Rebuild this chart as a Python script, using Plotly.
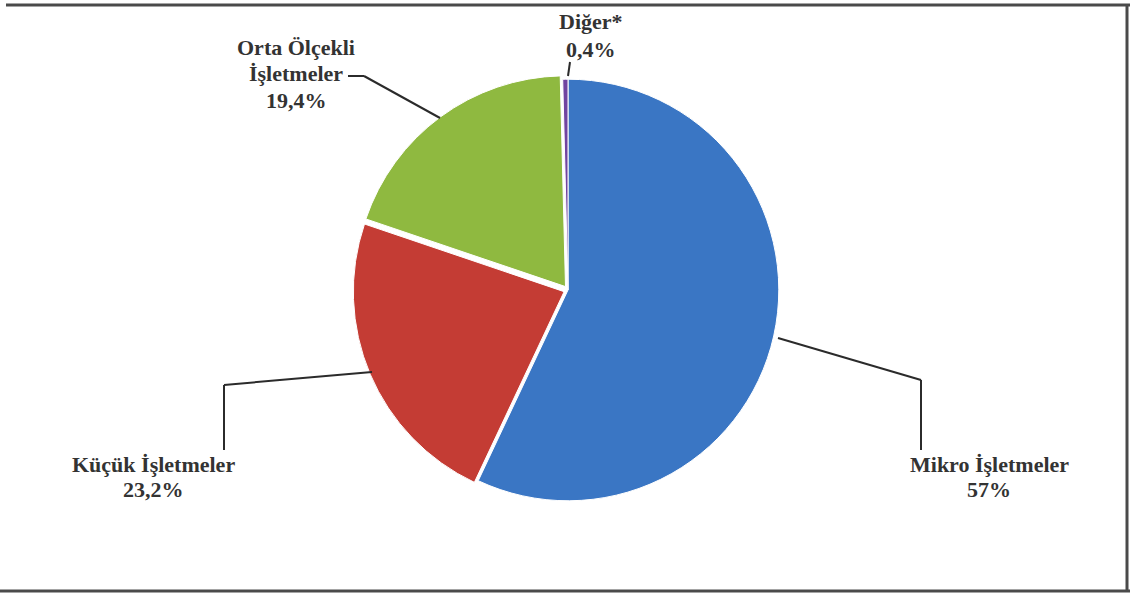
import plotly.graph_objects as go

# ---- data ----
labels = ["Mikro İşletmeler", "Küçük İşletmeler", "Orta Ölçekli İşletmeler", "Diğer*"]
values = [57.0, 23.2, 19.4, 0.4]
value_text = ["57%", "23,2%", "19,4%", "0,4%"]
label_lines = [["Mikro İşletmeler"], ["Küçük İşletmeler"], ["Orta Ölçekli", "İşletmeler"], ["Diğer*"]]
colors = ["#3a76c4", "#c43c34", "#8fb940", "#7044a0"]

W, H = 1130, 594

def px(x):
    return x / W

def py(y):
    return 1 - y / H

fig = go.Figure()
cx, cy, r = 568, 290, 215
fig.add_trace(go.Pie(
    labels=labels, values=values, sort=False, direction="clockwise", rotation=0,
    marker=dict(colors=colors, line=dict(color="#ffffff", width=1)),
    pull=[0, 0.02, 0.02, 0],
    textinfo="none", hoverinfo="label+percent", showlegend=False,
    domain=dict(x=[px(cx - r), px(cx + r)], y=[py(cy + r), py(cy - r)]),
))

font = dict(family="Liberation Serif, Times New Roman, serif", size=22, color="#333333")
# (x centre, y of first line, line step)
label_pos = [(989, 464, 25), (153, 464, 25), (296, 47, 26.5), (591, 21, 28)]
for lines, vt, (x, y0, step) in zip(label_lines, value_text, label_pos):
    for i, t in enumerate(lines + [vt]):
        fig.add_annotation(x=px(x), y=py(y0 + i * step), xref="paper", yref="paper", text=f"<b>{t}</b>",
                           showarrow=False, font=font, align="center", xanchor="center", yanchor="middle")

# leader lines
leaders = [
    [(921, 450), (921, 380), (778, 338)],
    [(224, 450), (224, 385), (372, 372)],
    [(348, 76), (364, 76), (440, 118)],
    [(570, 62), (568, 76)],
]
line_col = "#2b2b2b"
for pts in leaders:
    for (x0, y0), (x1, y1) in zip(pts[:-1], pts[1:]):
        fig.add_shape(type="line", xref="paper", yref="paper", x0=px(x0), y0=py(y0), x1=px(x1), y1=py(y1),
                      line=dict(color=line_col, width=2))

# frame
frame_col = "#4a4a4a"
fig.add_shape(type="line", xref="paper", yref="paper", x0=px(6), y0=py(5), x1=px(1130), y1=py(5),
              line=dict(color=frame_col, width=3))
fig.add_shape(type="line", xref="paper", yref="paper", x0=px(1127), y0=py(5), x1=px(1127), y1=py(592),
              line=dict(color=frame_col, width=3))
fig.add_shape(type="line", xref="paper", yref="paper", x0=px(0), y0=py(591), x1=px(1130), y1=py(591),
              line=dict(color=frame_col, width=3))

fig.update_layout(width=W, height=H, margin=dict(l=0, r=0, t=0, b=0),
                  paper_bgcolor="white", plot_bgcolor="white")
fig.write_html("out.html", config={"displayModeBar": False},
               post_script="document.body.style.margin='0';document.body.style.padding='0';document.body.style.overflow='hidden';")
